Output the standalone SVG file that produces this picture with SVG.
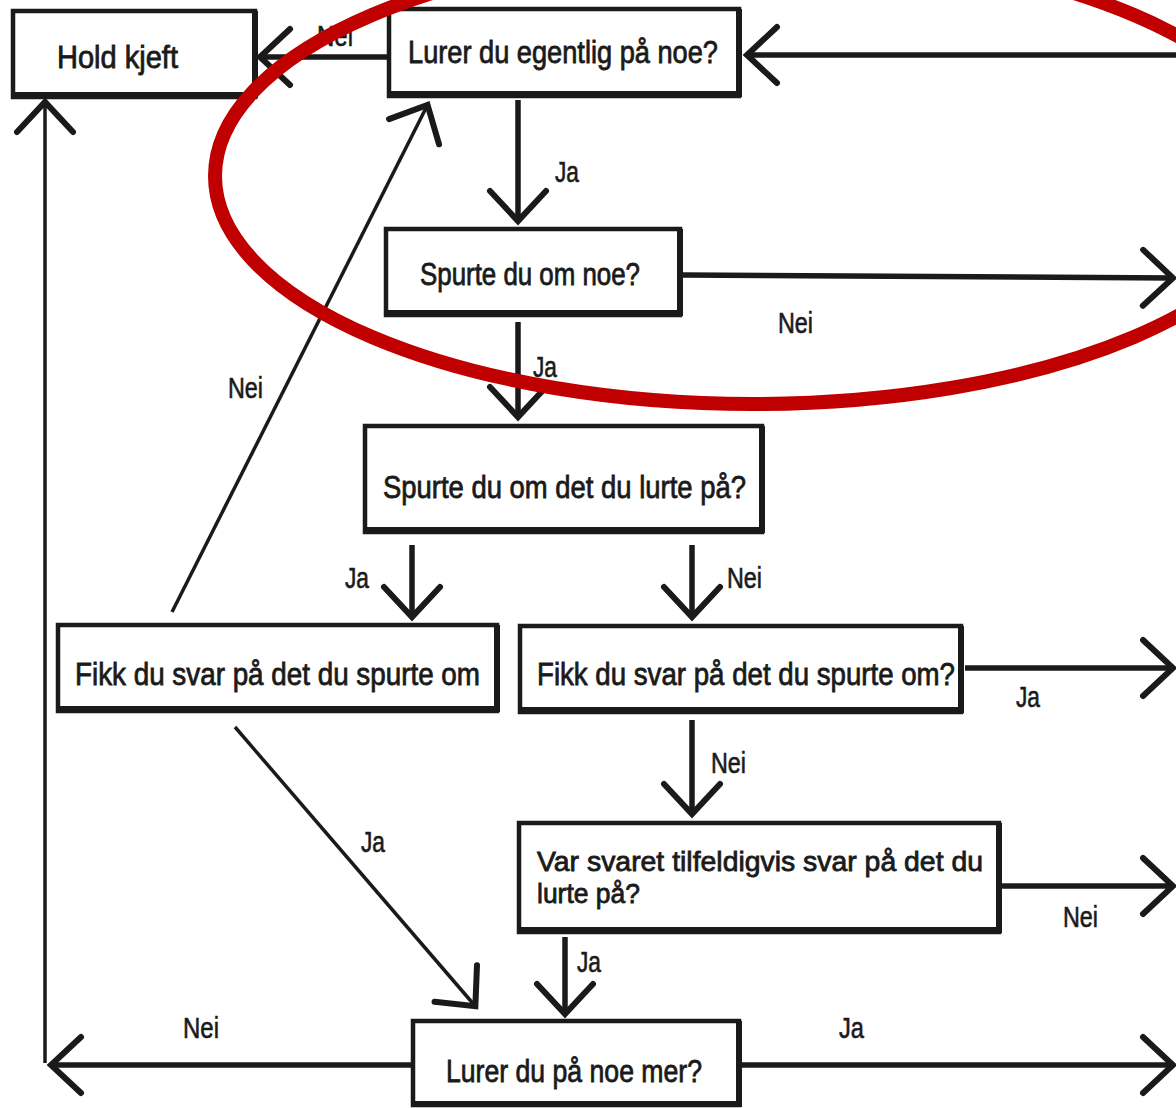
<svg xmlns="http://www.w3.org/2000/svg" width="1176" height="1108" viewBox="0 0 1176 1108">
<style>
.box{fill:#fff;stroke:#1a1a1a;stroke-width:4.5;stroke-linejoin:miter}
.edge{fill:none;stroke:#1a1a1a;stroke-width:6}
.c{fill:none;stroke:#1a1a1a;stroke-width:5.5;stroke-linecap:butt}
.thin{stroke-width:3.5}
.t{font-family:"Liberation Sans",Arial,sans-serif;font-size:32px;fill:#1a1a1a;stroke:#1a1a1a;stroke-width:0.8}
.t2{font-size:28px}
.l{font-family:"Liberation Sans",Arial,sans-serif;font-size:29px;fill:#1a1a1a;stroke:#1a1a1a;stroke-width:0.6}
</style>
<defs>
<marker id="ah" viewBox="-36 -34 42 68" refX="0" refY="0" markerWidth="42" markerHeight="68" markerUnits="userSpaceOnUse" orient="auto" overflow="visible">
<path d="M-31,-28 L-1,0 L-31,28" fill="none" stroke="#1a1a1a" stroke-width="6" stroke-linecap="round"/>
</marker>
</defs>
<rect width="1176" height="1108" fill="#fff"/>

<g id="connectors">
<line class="c" x1="388" y1="57" x2="259" y2="57" marker-end="url(#ah)"/>
<line class="c" x1="1176" y1="55" x2="746" y2="55" marker-end="url(#ah)"/>
<line class="c" x1="518" y1="100" x2="518" y2="222" marker-end="url(#ah)"/>
<line class="c" x1="683" y1="275" x2="1174" y2="278" marker-end="url(#ah)"/>
<line class="c" x1="518" y1="322" x2="518" y2="418" marker-end="url(#ah)"/>
<line class="c" x1="412" y1="545" x2="412" y2="618" marker-end="url(#ah)"/>
<line class="c" x1="692" y1="545" x2="692" y2="618" marker-end="url(#ah)"/>
<line class="c thin" x1="172" y1="612" x2="428" y2="104" marker-end="url(#ah)"/>
<line class="c thin" x1="235" y1="727" x2="476" y2="1007" marker-end="url(#ah)"/>
<line class="c" x1="965" y1="668" x2="1174" y2="668" marker-end="url(#ah)"/>
<line class="c" x1="692" y1="720" x2="692" y2="815" marker-end="url(#ah)"/>
<line class="c" x1="1002" y1="886" x2="1174" y2="886" marker-end="url(#ah)"/>
<line class="c" x1="565" y1="937" x2="565" y2="1015" marker-end="url(#ah)"/>
<line class="c" x1="412" y1="1065" x2="50" y2="1065" marker-end="url(#ah)"/>
<line class="c" x1="740" y1="1065" x2="1174" y2="1065" marker-end="url(#ah)"/>
<line class="c thin" x1="45" y1="1063" x2="45" y2="101" marker-end="url(#ah)"/>
<text class="l" x="317" y="46" textLength="36" lengthAdjust="spacingAndGlyphs">Nei</text>
<text class="l" x="555" y="182" textLength="24" lengthAdjust="spacingAndGlyphs">Ja</text>
<text class="l" x="778" y="333" textLength="35" lengthAdjust="spacingAndGlyphs">Nei</text>
<text class="l" x="533" y="377" textLength="24" lengthAdjust="spacingAndGlyphs">Ja</text>
<text class="l" x="228" y="398" textLength="35" lengthAdjust="spacingAndGlyphs">Nei</text>
<text class="l" x="345" y="588" textLength="24" lengthAdjust="spacingAndGlyphs">Ja</text>
<text class="l" x="727" y="588" textLength="35" lengthAdjust="spacingAndGlyphs">Nei</text>
<text class="l" x="1016" y="707" textLength="24" lengthAdjust="spacingAndGlyphs">Ja</text>
<text class="l" x="711" y="773" textLength="35" lengthAdjust="spacingAndGlyphs">Nei</text>
<text class="l" x="361" y="852" textLength="24" lengthAdjust="spacingAndGlyphs">Ja</text>
<text class="l" x="1063" y="927" textLength="35" lengthAdjust="spacingAndGlyphs">Nei</text>
<text class="l" x="577" y="972" textLength="24" lengthAdjust="spacingAndGlyphs">Ja</text>
<text class="l" x="183" y="1038" textLength="36" lengthAdjust="spacingAndGlyphs">Nei</text>
<text class="l" x="839" y="1038" textLength="25" lengthAdjust="spacingAndGlyphs">Ja</text>
</g>

<g id="n-hold">
<rect class="box" x="13" y="11" width="242" height="86"/>
<path class="edge" d="M13,95 H255 V11"/>
<text class="t" x="57" y="68" textLength="121" lengthAdjust="spacingAndGlyphs">Hold kjeft</text>
</g>
<g id="n-lurer-egentlig">
<rect class="box" x="389" y="9" width="350" height="87"/>
<path class="edge" d="M389,94 H739 V9"/>
<text class="t" x="408" y="63" textLength="310" lengthAdjust="spacingAndGlyphs">Lurer du egentlig på noe?</text>
</g>
<g id="n-spurte-noe">
<rect class="box" x="386" y="229" width="294" height="86"/>
<path class="edge" d="M386,313 H680 V229"/>
<text class="t" x="420" y="285" textLength="220" lengthAdjust="spacingAndGlyphs">Spurte du om noe?</text>
</g>
<g id="n-spurte-det">
<rect class="box" x="365" y="426" width="397" height="106"/>
<path class="edge" d="M365,530 H762 V426"/>
<text class="t" x="383" y="498" textLength="363" lengthAdjust="spacingAndGlyphs">Spurte du om det du lurte på?</text>
</g>
<g id="n-fikk-left">
<rect class="box" x="58" y="625" width="439" height="86"/>
<path class="edge" d="M58,709 H497 V625"/>
<text class="t" x="75" y="685" textLength="405" lengthAdjust="spacingAndGlyphs">Fikk du svar på det du spurte om</text>
</g>
<g id="n-fikk-right">
<rect class="box" x="520" y="626" width="441" height="86"/>
<path class="edge" d="M520,710 H961 V626"/>
<text class="t" x="537" y="685" textLength="418" lengthAdjust="spacingAndGlyphs">Fikk du svar på det du spurte om?</text>
</g>
<g id="n-var-svaret">
<rect class="box" x="519" y="823" width="480" height="109"/>
<path class="edge" d="M519,930 H999 V823"/>
<text class="t t2" x="537" y="871" textLength="446" lengthAdjust="spacingAndGlyphs">Var svaret tilfeldigvis svar på det du</text>
<text class="t t2" x="537" y="903" textLength="103" lengthAdjust="spacingAndGlyphs">lurte på?</text>
</g>
<g id="n-lurer-mer">
<rect class="box" x="413" y="1021" width="326" height="84"/>
<path class="edge" d="M413,1104 H739 V1021"/>
<text class="t" x="446" y="1082" textLength="256" lengthAdjust="spacingAndGlyphs">Lurer du på noe mer?</text>
</g>

<g id="highlight">
<ellipse cx="753" cy="176" rx="538" ry="228" fill="none" stroke="#c00000" stroke-width="14"/>
</g>
</svg>
